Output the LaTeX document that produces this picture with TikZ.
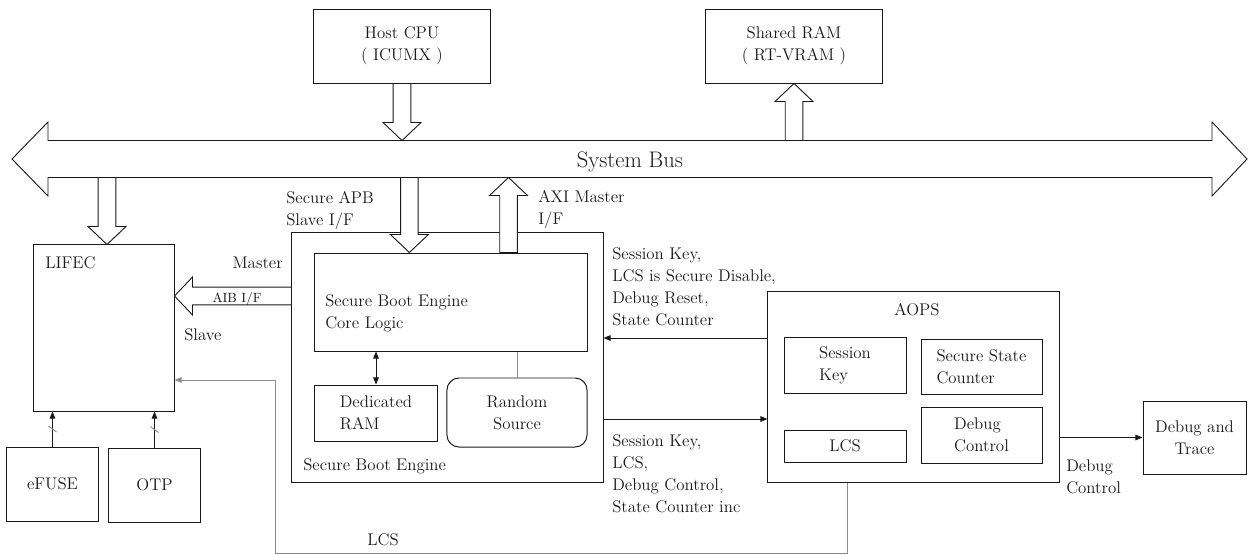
\documentclass[tikz,border=0pt]{standalone}
\usepackage{fontspec}
\usetikzlibrary{arrows.meta,calc,positioning}
\definecolor{SbInk}{RGB}{25,25,25}
\definecolor{SbGray}{RGB}{140,140,140}
\newcommand{\sbfont}{\rmfamily\fontsize{12}{15.6}\selectfont}
% hollow block arrow from #1 (tail) to #2 (tip)
\newcommand{\fatarrow}[2]{%
  \coordinate (fatB) at ($(#2)!0.45cm!(#1)$);
  \draw[sb/fat] ($(#1)!0.22cm!90:(#2)$) -- ($(fatB)!0.22cm!90:(#2)$)
    -- ($(fatB)!0.475cm!90:(#2)$) -- (#2) -- ($(fatB)!0.475cm!-90:(#2)$)
    -- ($(fatB)!0.22cm!-90:(#2)$) -- ($(#1)!0.22cm!-90:(#2)$) -- cycle;}
\tikzset{
  sb/box/.style={
    draw=SbInk,
    line width=0.7pt,
    fill=white,
    align=center,
    text=SbInk,
    inner sep=2pt,
    font=\sbfont
  },
  sb/leftbox/.style={sb/box, align=left},
  sb/fat/.style={draw=SbInk, line width=0.65pt, fill=white, line join=miter},
  sb/arrow/.style={-{Triangle[length=5pt,width=4pt]}, line width=0.65pt, draw=SbInk},
  sb/biarrow/.style={{Triangle[length=5pt,width=4pt]}-{Triangle[length=5pt,width=4pt]}, line width=0.65pt, draw=SbInk},
  sb/grayline/.style={line width=0.65pt, draw=SbGray},
  sb/grayarrow/.style={-{Triangle[length=5pt,width=4pt]}, line width=0.65pt, draw=SbGray},
  sb/label/.style={font=\sbfont, text=SbInk, inner sep=0pt, align=left},
  sb/buslabel/.style={font=\rmfamily\fontsize{16}{19}\selectfont, text=SbInk, inner sep=0pt},
  sb/tinylabel/.style={font=\rmfamily\fontsize{9.5}{11}\selectfont, text=SbInk, inner sep=0pt}
}

\begin{document}
\begin{tikzpicture}[x=0.025cm,y=-0.025cm]
  \useasboundingbox (0,0) rectangle (1248,554);

  % system bus
  \coordinate (busW) at (12,159);
  \coordinate (busE) at (1247,159);
  \coordinate (busTop) at (0,140.5);
  \coordinate (busBot) at (0,177.5);
  \draw[sb/fat] (busW) -- ++(36,-37) -- ++(0,18.5) -- ($(busE)+(-35,-18.5)$) -- ++(0,-18.5)
    -- (busE) -- ++(-35,37) -- ++(0,-18.5) -- ($(busW)+(36,18.5)$) -- ++(0,18.5) -- cycle;
  \node[sb/buslabel,anchor=base] (busT) at (630,167) {System Bus};

  % top masters / memories
  \node[sb/box,minimum width=4.4cm,minimum height=1.85cm] (host) at (402,46) {Host CPU\\( ICUMX )};
  \node[sb/box,minimum width=4.4cm,minimum height=1.85cm] (sram) at (794,46) {Shared RAM\\( RT-VRAM )};

  % LIFEC side
  \node[sb/box,minimum width=3.5cm,minimum height=4.15cm] (lifec) at (104,328) {};
  \node[sb/label,anchor=base west] (lifecT) at (45,268) {LIFEC};
  \node[sb/box,minimum width=2.275cm,minimum height=1.85cm] (efuse) at (52.5,484) {eFUSE};
  \node[sb/box,minimum width=2.275cm,minimum height=1.85cm] (otp) at (154.5,485) {OTP};

  % secure boot engine
  \node[sb/box,minimum width=7.775cm,minimum height=6.225cm] (sbe) at (447.5,357.5) {};
  \node[sb/label,anchor=base west] (sbeT) at (303,470) {Secure Boot Engine};
  \node[sb/box,minimum width=6.8cm,minimum height=2.45cm] (core) at (451,302) {};
  \node[sb/label,anchor=north west] (coreT) at (325,294.5) {Secure Boot Engine\\Core Logic};
  \node[sb/leftbox,minimum width=3.05cm,minimum height=1.4cm] (dram) at (376,413) {Dedicated\\RAM};
  \node[sb/box,rounded corners=0.3cm,minimum width=3.5cm,minimum height=1.725cm] (rng) at (517,412.5) {Random\\Source};

  % AOPS
  \node[sb/box,minimum width=7.275cm,minimum height=4.75cm] (aops) at (913.5,387) {};
  \node[sb/label,anchor=base] (aopsT) at (917,315) {AOPS};
  \node[sb/leftbox,minimum width=3.05cm,minimum height=1.4cm] (skey) at (845,365) {Session\\Key};
  \node[sb/box,minimum width=3.05cm,minimum height=0.8cm] (lcsb) at (845,446) {LCS};
  \node[sb/leftbox,minimum width=3.025cm,minimum height=1.375cm] (ssc) at (981.5,366.5) {Secure State\\Counter};
  \node[sb/leftbox,minimum width=3.025cm,minimum height=1.4cm] (dctl) at (981.5,435) {Debug\\Control};
  \node[sb/box,minimum width=2.575cm,minimum height=1.825cm] (dbg) at (1194.5,437.5) {Debug and\\Trace};

  % block arrows to / from the bus
  \coordinate (hostTip) at (host.south |- busTop);
  \fatarrow{host.south}{hostTip}
  \coordinate (sramBase) at (sram.south |- busTop);
  \fatarrow{sramBase}{sram.south}
  \coordinate (lifecIn) at ([xshift=0.075cm]lifec.north);
  \coordinate (lifecBus) at (lifecIn |- busBot);
  \fatarrow{lifecBus}{lifecIn}
  \coordinate (apbIn) at ([xshift=-1.04cm]core.north);
  \coordinate (apbBus) at (apbIn |- busBot);
  \fatarrow{apbBus}{apbIn}
  \coordinate (axiOut) at ([xshift=1.4375cm]core.north);
  \coordinate (axiBus) at (axiOut |- busBot);
  \fatarrow{axiOut}{axiBus}
  \coordinate (aibTip) at ([yshift=0.8cm]lifec.east);
  \coordinate (aibTail) at (aibTip -| sbe.west);
  \fatarrow{aibTail}{aibTip}
  \node[sb/tinylabel,anchor=base] (aibT) at (237,302) {AIB I/F};

  % signal lines
  \draw[sb/biarrow] (dram.north) -- (dram.north |- core.south);
  \draw[sb/grayline] (rng.north) -- (rng.north |- core.south);
  \coordinate (toSbe) at ([yshift=1.225cm]aops.west);
  \draw[sb/arrow] (toSbe) -- (toSbe -| sbe.east);
  \coordinate (toAops) at ([yshift=-0.8cm]aops.west);
  \draw[sb/arrow] (toAops -| sbe.east) -- (toAops);
  \draw[sb/arrow] (dbg.west -| aops.east) -- (dbg.west);
  \draw[sb/arrow] (efuse.north) -- (efuse.north |- lifec.south);
  \draw[sb/arrow] (otp.north) -- (otp.north |- lifec.south);
  \draw[sb/grayline] ($(efuse.north)!0.5!(efuse.north |- lifec.south)+(-4,-3)$) -- ++(8,6);
  \draw[sb/grayline] ($(otp.north)!0.5!(otp.north |- lifec.south)+(-4,-3)$) -- ++(8,6);
  \coordinate (lcsOut) at ([xshift=-1.65cm]aops.south);
  \coordinate (lcsIn) at ([yshift=-1.3cm]lifec.east);
  \draw[sb/grayarrow] (lcsOut) -- ++(0,71) -| ([xshift=2.525cm]lcsIn) -- (lcsIn);

  % labels
  \node[sb/label,anchor=north west] (apbT) at (286,191.5) {Secure APB\\Slave I/F};
  \node[sb/label,anchor=north west] (axiT) at (538,190.5) {AXI Master\\I/F};
  \node[sb/label,anchor=base east] (masterT) at (283,268) {Master};
  \node[sb/label,anchor=base west] (slaveT) at (184,340) {Slave};
  \node[sb/label,anchor=north west] (toSbeT) at (612,247.5) {Session Key,\\LCS is Secure Disable,\\Debug Reset,\\State Counter};
  \node[sb/label,anchor=north west] (toAopsT) at (612,434.5) {Session Key,\\LCS,\\Debug Control,\\State Counter inc};
  \node[sb/label,anchor=north west] (dbgT) at (1066,459.5) {Debug\\Control};
  \node[sb/label,anchor=base] (lcsT) at (383,545) {LCS};
\end{tikzpicture}
\end{document}
